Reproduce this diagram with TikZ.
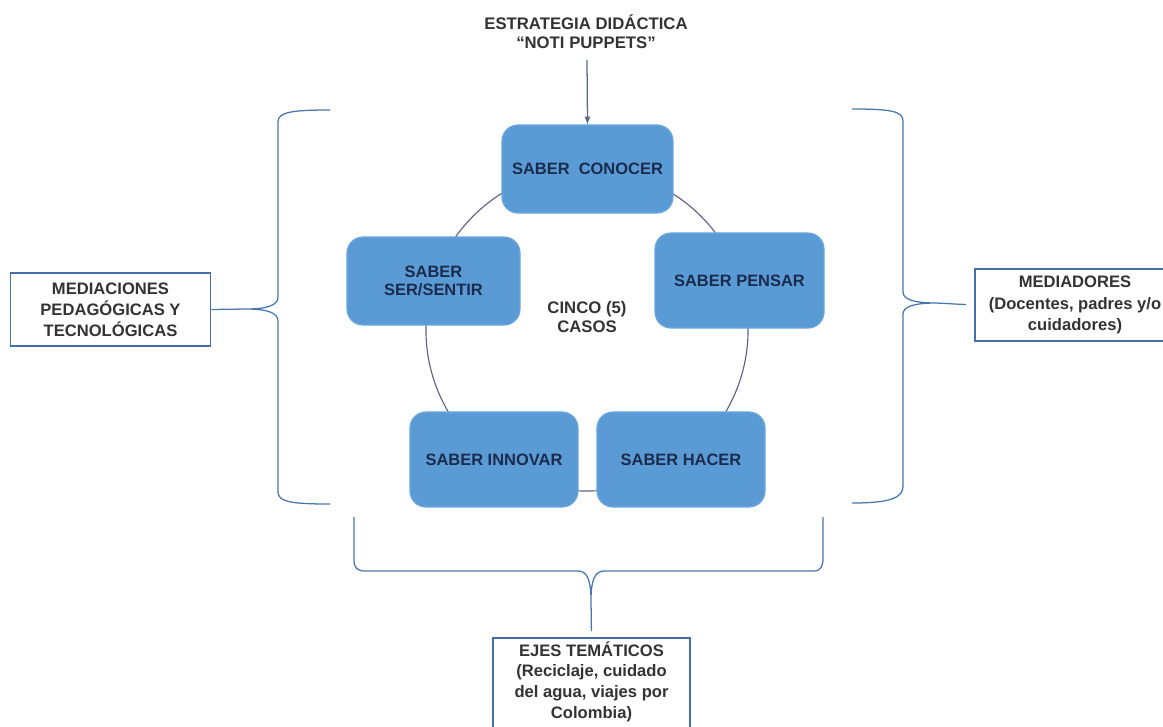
\documentclass[tikz,border=0pt]{standalone}
\usepackage{fontspec}
\setmainfont{Liberation Sans}
\usepackage{tikz}
\usetikzlibrary{positioning, calc}

\definecolor{SaberFill}{HTML}{5B9BD5}
\definecolor{SaberEdge}{HTML}{6CA8DE}
\definecolor{SaberText}{HTML}{1A2B4C}
\definecolor{MarcoEdge}{HTML}{4470A8}
\definecolor{LlaveBlue}{HTML}{4A76AE}
\definecolor{RingGray}{HTML}{625E84}
\definecolor{ArrowGray}{HTML}{5C6A86}

\begin{document}
\begin{tikzpicture}[
    x=0.025cm, y=-0.025cm,
    >=latex,
    saber/.style={draw=SaberEdge, fill=SaberFill, rounded corners=0.4cm, line width=0.8pt, align=center, inner sep=0pt, text=SaberText, font=\bfseries\fontsize{11.7}{13}\selectfont},
    marco/.style={draw=MarcoEdge, line width=1.1pt, fill=white, align=center, inner sep=0pt, text=black!80, font=\bfseries\fontsize{11.8}{15}\selectfont},
    llave/.style={draw=LlaveBlue, line width=0.9pt},
    ring/.style={draw=RingGray, line width=0.8pt},
    titulo/.style={align=center, text=black!80, font=\bfseries\fontsize{11.9}{13.5}\selectfont}]

    \useasboundingbox (0,0) rectangle (1163,726);

    % ciclo de los cinco saberes
    \coordinate (hub) at (587,330);
    \draw[ring] (hub) circle (4.025cm);

    \node at (587.5,169) [saber, minimum width=4.275cm, minimum height=2.2cm] (conocer) {SABER\ \ CONOCER};
    \node at (433.5,281) [saber, minimum width=4.325cm, minimum height=2.2cm] (ser) {SABER\\SER/SENTIR};
    \node at (739.5,280.5) [saber, minimum width=4.225cm, minimum height=2.375cm] (pensar) {SABER PENSAR};
    \node at (494,459.5) [saber, minimum width=4.2cm, minimum height=2.375cm] (innovar) {SABER INNOVAR};
    \node at (681,459.5) [saber, minimum width=4.2cm, minimum height=2.375cm] (hacer) {SABER HACER};
    \node at (587,317) [titulo] (casos) {CINCO (5)\\CASOS};

    \node at (586,32) [titulo] (estrategia) {ESTRATEGIA DIDÁCTICA\\“NOTI PUPPETS”};
    \coordinate (flecha) at (587,60);
    \draw[->, ArrowGray, line width=0.9pt] (flecha) -- (conocer.north);

    % cuadros exteriores
    \node at (110.5,309.5) [marco, minimum width=5cm, minimum height=1.825cm] (mediaciones) {MEDIACIONES\\PEDAGÓGICAS Y\\TECNOLÓGICAS};
    \node at (1075,305) [marco, minimum width=5cm, minimum height=1.8cm] (mediadores) {MEDIADORES\\(Docentes, padres y/o\\cuidadores)};
    \node at (591.5,688) [marco, minimum width=4.925cm, minimum height=2.5cm, font=\bfseries\fontsize{11.8}{14.6}\selectfont] (ejes) {EJES TEMÁTICOS\\(Reciclaje, cuidado\\del agua, viajes por\\Colombia)\\[-3pt]};

    % llaves
    \coordinate (ltip) at (246,309);
    \coordinate (rtip) at (936,303);
    \coordinate (btip) at (591,600);
    \draw[llave] (330,110) .. controls (292,110) and (278,112) .. (278,122) -- (278,297)
        .. controls (278,305) and (268,309) .. (ltip)
        .. controls (268,309) and (278,313) .. (278,321) -- (278,492)
        .. controls (278,502) and (292,504) .. (330,504);
    \draw[llave] (ltip) -- (mediaciones.east);
    \draw[llave] (852,109) .. controls (890,109) and (903,111) .. (903,121) -- (903,292)
        .. controls (903,299) and (913,303) .. (rtip)
        .. controls (913,303) and (903,307) .. (903,314) -- (903,486)
        .. controls (903,498) and (890,503) .. (852,503);
    \draw[llave, shorten >=0.2cm] (rtip) -- (mediadores.west);
    \draw[llave] (354,517) -- (354,560) .. controls (354,568) and (357,571) .. (366,571) -- (578,571)
        .. controls (587,571) and (591,580) .. (btip)
        .. controls (591,580) and (595,571) .. (604,571) -- (814,571)
        .. controls (821,571) and (823,566) .. (823,558) -- (823,517);
    \draw[llave, shorten >=0.15cm] (btip) -- (ejes.north);

\end{tikzpicture}
\end{document}
